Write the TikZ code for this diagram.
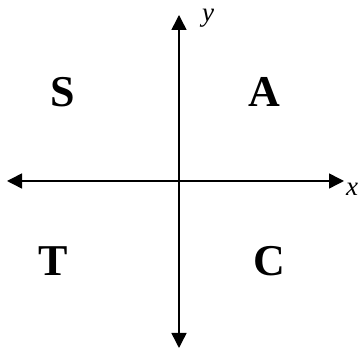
\documentclass[tikz,border=0pt]{standalone}
\usepackage{fontspec}
\setmainfont{Liberation Serif}
\usetikzlibrary{arrows.meta}
\begin{document}
\begin{tikzpicture}[x=1pt,y=1pt,
  axis/.style={line width=1.5pt,-{Triangle[length=15pt,width=15pt]}},
  quad/.style={font=\fontsize{44}{50}\selectfont\bfseries},
  axlabel/.style={font=\fontsize{27}{30}\selectfont\itshape}]
\useasboundingbox (0,0) rectangle (359,350);
\coordinate (c) at (179,169);
\coordinate (top) at (179,335);
\coordinate (bot) at (179,2);
\coordinate (left) at (7,169);
\coordinate (right) at (344,169);
\draw[axis] (c) -- (top);
\draw[axis] (c) -- (bot);
\draw[axis] (c) -- (left);
\draw[axis] (c) -- (right);
\node[axlabel] (ylab) at (208,332) {y};
\node[axlabel] (xlab) at (352,161) {x};
\node[quad] (S) at (63,258) {S};
\node[quad] (A) at (264,258) {A};
\node[quad] (T) at (53,89) {T};
\node[quad] (C) at (269,89) {C};
\end{tikzpicture}
\end{document}
